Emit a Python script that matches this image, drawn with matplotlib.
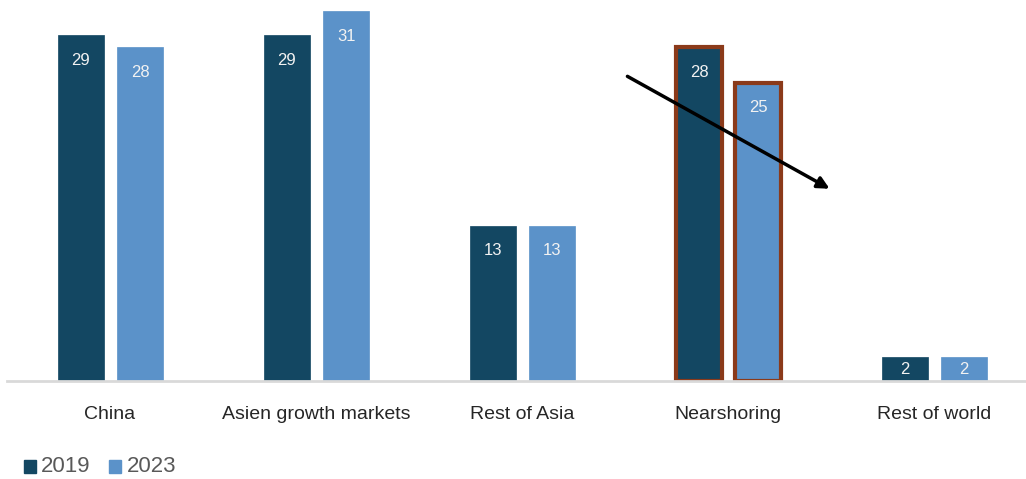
import matplotlib.pyplot as plt
import numpy as np
from matplotlib import font_manager

categories = ["China", "Asien growth markets", "Rest of Asia", "Nearshoring", "Rest of world"]
values_2019 = [29, 29, 13, 28, 2]
values_2023 = [28, 31, 13, 25, 2]
highlight = "Nearshoring"

names = {f.name for f in font_manager.fontManager.ttflist}
font = "Liberation Sans Narrow" if "Liberation Sans Narrow" in names else "Liberation Sans"
plt.rcParams['font.family'] = [font, 'DejaVu Sans']

dark = "#134762"
light = "#5b92c9"
edge = "#8b3a1a"

fig = plt.figure(figsize=(10.26, 4.79), dpi=100)
ax = fig.add_axes([7 / 1026, 98 / 479, 1030 / 1026, 381 / 479])

x = np.arange(len(categories))
w = 0.222
for i, cat in enumerate(categories):
    hl = cat == highlight
    for off, vals, col in [(-0.141, values_2019, dark), (0.147, values_2023, light)]:
        v = vals[i]
        ax.bar(x[i] + off, v, w, color=col,
               edgecolor=edge if hl else col, linewidth=3 if hl else 0.5, zorder=2)
        ty = v - 2.1 if v > 5 else v / 2
        ax.text(x[i] + off, ty, str(v), ha='center', va='center',
                color='#f2f2f2', fontsize=12, zorder=3)

ax.annotate("", xy=(3.505, 16.0), xytext=(2.5, 25.65),
            arrowprops=dict(arrowstyle='-|>,head_length=0.7,head_width=0.35', color='black', lw=2.5),
            zorder=4)

ax.set_xlim(-0.5, 4.5)
ax.set_ylim(0, 381 / 11.93)
ax.set_xticks(x)
ax.set_xticklabels(categories, fontsize=14, color='#262626')
ax.tick_params(axis='x', length=0, pad=18)
ax.set_yticks([])
for s in ['top', 'right', 'left']:
    ax.spines[s].set_visible(False)
ax.spines['bottom'].set_color('#d9d9d9')
ax.spines['bottom'].set_linewidth(2)

fig.patches.append(plt.Rectangle((24 / 1026, 1 - 473 / 479), 12 / 1026, 13 / 479,
                                 transform=fig.transFigure, color=dark))
fig.text(41 / 1026, 1 - 466 / 479, "2019", fontsize=16, color='#595959', va='center')
fig.patches.append(plt.Rectangle((109 / 1026, 1 - 473 / 479), 12 / 1026, 13 / 479,
                                 transform=fig.transFigure, color=light))
fig.text(127 / 1026, 1 - 466 / 479, "2023", fontsize=16, color='#595959', va='center')

fig.savefig("out.png", dpi=100)
